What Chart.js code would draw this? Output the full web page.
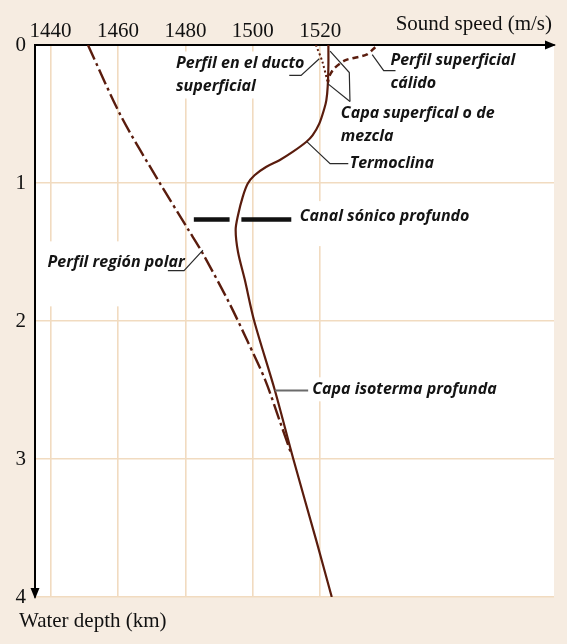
<!DOCTYPE html>
<html lang="es">
<head>
<meta charset="UTF-8">
<title>Perfil de velocidad del sonido</title>
<style>
  html, body { margin: 0; padding: 0; background: #f6ece1; overflow: hidden; }
  #chart { display: block; }
</style>
</head>
<body>
<canvas id="chart" width="567" height="644"></canvas>
<script src="https://cdn.jsdelivr.net/npm/chart.js"></script>
<script>
// depth in km, sound speed in m/s
const mainDepth = [0, 0.15, 0.3, 0.4, 0.46, 0.57, 0.655, 0.703, 0.775, 0.835, 0.884, 0.944, 1.004, 1.10, 1.233, 1.34, 1.5, 1.7, 2.0, 2.5, 3.0, 3.59, 4.0];
const mainSpeed = [1522.4, 1522.4, 1522.2, 1521.8, 1521.2, 1519.7, 1517.7, 1515.8, 1511.8, 1507.9, 1503.9, 1500.5, 1498.5, 1497.0, 1495.6, 1494.9, 1495.6, 1497.6, 1500.4, 1506.5, 1512.0, 1518.8, 1523.4];

const polarDepth = [0, 0.52, 1.0, 1.34, 1.5, 1.86, 2.14, 2.43, 2.74, 2.95];
const polarSpeed = [1451.1, 1461.0, 1472.4, 1480.9, 1484.9, 1492.8, 1498.3, 1503.7, 1508.2, 1511.2];

const ductDepth = [0, 0.12, 0.27];
const ductSpeed = [1518.7, 1520.6, 1522.2];

const warmDepth = [0.016, 0.07, 0.11, 0.17, 0.23, 0.27];
const warmSpeed = [1536.3, 1533.7, 1527.5, 1524.1, 1522.6, 1522.3];

const channelDepth = [1.265, 1.265, null, 1.265, 1.265];
const channelSpeed = [1482.5, 1493.1, 1494.9, 1496.6, 1511.4];

const speedTicks = [1440, 1460, 1480, 1500, 1520];
const depthTicks = [0, 1, 2, 3, 4];

// annotation texts, anchored in data units (speed, depth); pad = white box [top, bottom, right]
const notes = [
  { lines: ['Perfil en el ducto', 'superficial'], at: [1477.2, 0.134], pad: [12, 12, 6] },
  { lines: ['Perfil superficial', 'cálido'], at: [1540.8, 0.112], pad: [10, 10, 6] },
  { lines: ['Capa superfical o de', 'mezcla'], at: [1526.1, 0.496], pad: [10, 10, 6] },
  { lines: ['Termoclina'], at: [1528.7, 0.858], pad: [10, 10, 6] },
  { lines: ['Canal sónico profundo'], at: [1513.9, 1.24], pad: [15, 30, 6] },
  { lines: ['Perfil región polar'], at: [1439.1, 1.575], pad: [21, 44, -4] },
  { lines: ['Capa isoterma profunda'], at: [1517.6, 2.495], pad: [12, 12, 6] }
];

const leaders = [
  { pts: [[1510.8, 0.22], [1514.3, 0.22], [1519.7, 0.10]], color: '#2a2a2a' },
  { pts: [[1535.4, 0.07], [1538.8, 0.185], [1542.3, 0.185]], color: '#2a2a2a' },
  { pts: [[1522.9, 0.045], [1528.6, 0.20], [1528.8, 0.41]], color: '#2a2a2a' },
  { pts: [[1522.2, 0.28], [1528.8, 0.41]], color: '#2a2a2a' },
  { pts: [[1516.0, 0.70], [1522.9, 0.86], [1528.3, 0.86]], color: '#2a2a2a' },
  { pts: [[1474.8, 1.635], [1479.6, 1.635], [1485.2, 1.486]], color: '#2a2a2a' },
  { pts: [[1506.5, 2.503], [1516.4, 2.503]], color: '#6b6b6b', width: 2 }
];

const brown = '#5a1c0d';
const noteFont = 'italic bold 16px "Open Sans"';
const noteLine = 23;

function toPoints(xs, ys) {
  return xs.map(function(x, i) { return { x: x, y: ys[i] }; });
}

const backgroundPlugin = {
  id: 'paper',
  beforeDraw(chart) {
    const ctx = chart.ctx, a = chart.chartArea;
    ctx.save();
    ctx.fillStyle = '#f6ece1';
    ctx.fillRect(0, 0, chart.width, chart.height);
    ctx.fillStyle = '#ffffff';
    ctx.fillRect(a.left, a.top, a.right - a.left, a.bottom - a.top);
    ctx.restore();
  }
};

const notesPlugin = {
  id: 'notes',
  beforeDatasetsDraw(chart) {
    // white boxes behind the labels hide the grid
    const ctx = chart.ctx, xs = chart.scales.x, ys = chart.scales.y;
    ctx.save();
    ctx.font = noteFont;
    ctx.fillStyle = '#ffffff';
    notes.forEach(function(n) {
      const x = xs.getPixelForValue(n.at[0]);
      const y = ys.getPixelForValue(n.at[1]);
      let w = 0;
      n.lines.forEach(function(l) { w = Math.max(w, ctx.measureText(l).width); });
      const h = (n.lines.length - 1) * noteLine;
      ctx.fillRect(x - 6, y - n.pad[0], w + 6 + n.pad[2], h + n.pad[0] + n.pad[1]);
    });
    ctx.restore();
  },
  afterDatasetsDraw(chart) {
    const ctx = chart.ctx, xs = chart.scales.x, ys = chart.scales.y;
    ctx.save();
    leaders.forEach(function(l) {
      ctx.beginPath();
      l.pts.forEach(function(p, i) {
        const px = xs.getPixelForValue(p[0]), py = ys.getPixelForValue(p[1]);
        if (i === 0) ctx.moveTo(px, py); else ctx.lineTo(px, py);
      });
      ctx.strokeStyle = l.color;
      ctx.lineWidth = l.width || 1.2;
      ctx.stroke();
    });
    ctx.font = noteFont;
    ctx.fillStyle = '#141414';
    ctx.textAlign = 'left';
    ctx.textBaseline = 'middle';
    notes.forEach(function(n) {
      const x = xs.getPixelForValue(n.at[0]);
      const y = ys.getPixelForValue(n.at[1]);
      n.lines.forEach(function(l, i) { ctx.fillText(l, x, y + i * noteLine); });
    });
    ctx.restore();
  },
  afterDraw(chart) {
    const ctx = chart.ctx, a = chart.chartArea;
    ctx.save();
    ctx.fillStyle = '#000';
    // arrow heads on both axes
    ctx.beginPath();
    ctx.moveTo(a.right + 2, a.top);
    ctx.lineTo(a.right - 9, a.top - 4.5);
    ctx.lineTo(a.right - 9, a.top + 4.5);
    ctx.closePath();
    ctx.fill();
    ctx.beginPath();
    ctx.moveTo(a.left, a.bottom + 2);
    ctx.lineTo(a.left - 4.5, a.bottom - 9);
    ctx.lineTo(a.left + 4.5, a.bottom - 9);
    ctx.closePath();
    ctx.fill();
    // axis titles
    ctx.font = '21px "Liberation Serif"';
    ctx.fillStyle = '#111';
    ctx.textBaseline = 'alphabetic';
    ctx.textAlign = 'right';
    ctx.fillText('Sound speed (m/s)', a.right - 2, 29.5);
    ctx.textAlign = 'left';
    ctx.fillText('Water depth (km)', 19, a.bottom + 30);
    ctx.restore();
  }
};

new Chart(document.getElementById('chart').getContext('2d'), {
  type: 'scatter',
  data: {
    datasets: [
      { label: 'Perfil general', data: toPoints(mainSpeed, mainDepth), borderColor: brown, borderWidth: 2.2, tension: 0.3 },
      { label: 'Perfil región polar', data: toPoints(polarSpeed, polarDepth), borderColor: brown, borderWidth: 2.4, borderDash: [16, 4, 3, 4], tension: 0.3 },
      { label: 'Perfil en el ducto superficial', data: toPoints(ductSpeed, ductDepth), borderColor: brown, borderWidth: 2, borderDash: [2, 2.5], tension: 0.3 },
      { label: 'Perfil superficial cálido', data: toPoints(warmSpeed, warmDepth), borderColor: brown, borderWidth: 2.5, borderDash: [6, 4], tension: 0.3 },
      { label: 'Canal sónico profundo', data: toPoints(channelSpeed, channelDepth), borderColor: '#111', borderWidth: 4.5, tension: 0, borderCapStyle: 'butt' }
    ]
  },
  options: {
    responsive: false,
    animation: false,
    showLine: true,
    spanGaps: false,
    layout: { padding: { top: 0, right: 13, bottom: 47, left: 0 } },
    elements: { point: { radius: 0, hoverRadius: 0 } },
    plugins: { legend: { display: false }, tooltip: { enabled: false } },
    scales: {
      x: {
        type: 'linear',
        position: 'top',
        min: 1435.4,
        max: 1589.3,
        afterBuildTicks: function(s) { s.ticks = speedTicks.map(function(v) { return { value: v }; }); },
        afterFit: function(s) { s.height = 45; },
        grid: { color: '#f1dbc0', lineWidth: 1.6, drawTicks: false },
        border: { display: true, color: '#000', width: 2 },
        ticks: {
          autoSkip: false, maxRotation: 0, padding: 1, color: '#111',
          font: { family: '"Liberation Serif"', size: 21 },
          callback: function(v) { return String(v); }
        }
      },
      y: {
        type: 'linear',
        reverse: true,
        min: 0,
        max: 4,
        afterBuildTicks: function(s) { s.ticks = depthTicks.map(function(v) { return { value: v }; }); },
        afterFit: function(s) { s.width = 35; },
        grid: { color: '#f1dbc0', lineWidth: 1.6, drawTicks: false },
        border: { display: true, color: '#000', width: 2 },
        ticks: {
          autoSkip: false, padding: 9, color: '#111',
          font: { family: '"Liberation Serif"', size: 21 },
          callback: function(v) { return String(v); }
        }
      }
    }
  },
  plugins: [backgroundPlugin, notesPlugin]
});
</script>
</body>
</html>
